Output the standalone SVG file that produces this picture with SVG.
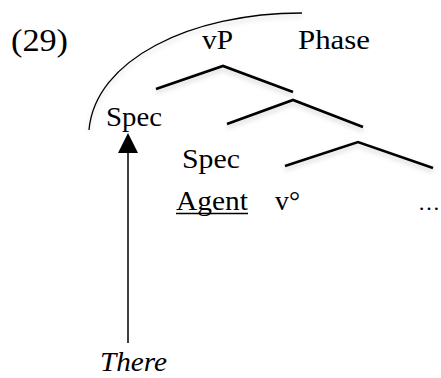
<svg xmlns="http://www.w3.org/2000/svg" width="441" height="378" viewBox="0 0 441 378">
<style>
  text { font-family: "Liberation Serif", "DejaVu Serif", serif; font-size: 28px; fill: #000; }
  .it { font-style: italic; font-size: 28px; }
  .big { font-size: 31px; }
  .dots { font-size: 22px; }
  .roof { fill: none; stroke: #000; stroke-width: 2.6; stroke-linejoin: miter; filter: url(#sh); }
  .arc { fill: none; stroke: #000; stroke-width: 1.3; filter: url(#sh); }
  .arrow { fill: none; stroke: #000; stroke-width: 1.5; }
</style>
<defs>
  <filter id="sh" x="-10%" y="-20%" width="120%" height="160%">
    <feDropShadow dx="0" dy="3" stdDeviation="2.5" flood-color="#000" flood-opacity="0.18"/>
  </filter>
</defs>
<g id="label-29"><text class="big" x="11" y="51" textLength="57" lengthAdjust="spacingAndGlyphs">(29)</text></g>
<g id="node-vP"><text x="202" y="49" textLength="31" lengthAdjust="spacingAndGlyphs">vP</text></g>
<g id="node-Phase"><text x="298" y="49" textLength="72" lengthAdjust="spacingAndGlyphs">Phase</text></g>
<g id="node-Spec1"><text x="106" y="126" textLength="56" lengthAdjust="spacingAndGlyphs">Spec</text></g>
<g id="node-Spec2"><text x="182" y="168" textLength="58" lengthAdjust="spacingAndGlyphs">Spec</text></g>
<g id="node-Agent"><text x="176" y="210" textLength="72" lengthAdjust="spacingAndGlyphs">Agent</text><line x1="176" y1="213.5" x2="248" y2="213.5" stroke="#000" stroke-width="1.5"/></g>
<g id="node-v"><text x="275" y="210" textLength="25" lengthAdjust="spacingAndGlyphs">v°</text></g>
<g id="node-dots"><text class="dots" x="418" y="210">…</text></g>
<g id="node-There"><text class="it" x="100" y="371" textLength="67" lengthAdjust="spacingAndGlyphs">There</text></g>
<g id="connectors">
  <path class="arc" d="M89,130 C95,60 190,13 302,13"/>
  <polyline class="roof" points="156,89 223,66 293,92"/>
  <polyline class="roof" points="227,124 293,100 363,127"/>
  <polyline class="roof" points="285,166 358,142 433,168"/>
  <line class="arrow" x1="128" y1="343" x2="128" y2="150"/>
  <path d="M128,133 L118,153 L138,153 Z" fill="#000"/>
</g>
</svg>
